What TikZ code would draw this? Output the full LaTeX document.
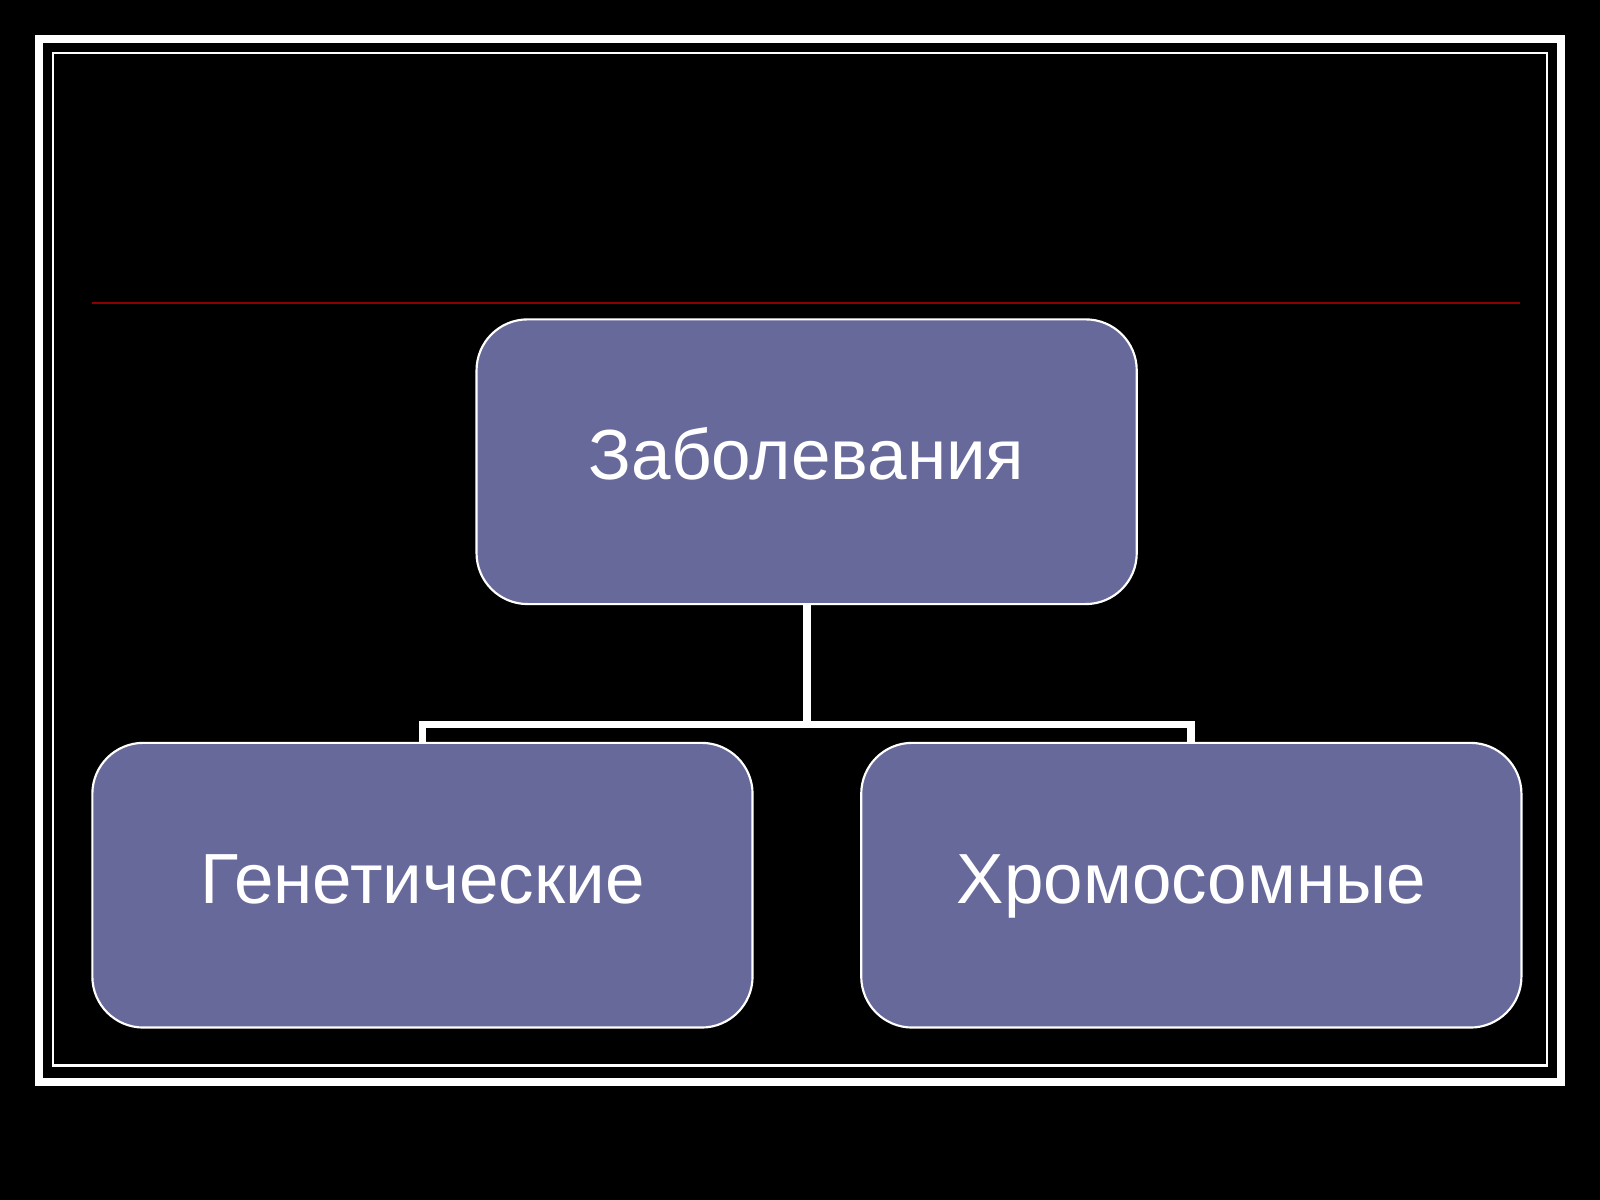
\documentclass[tikz,border=0pt]{standalone}
\usepackage{fontspec}
\setmainfont{Liberation Sans}
\usetikzlibrary{positioning}
\definecolor{boxblue}{HTML}{67699A}
\definecolor{rulered}{HTML}{8B0000}
\tikzset{
  topic/.style={draw=white, line width=0.6pt, fill=boxblue, rounded corners=0.5cm,
    minimum width=6.47cm, minimum height=2.79cm, text=white,
    text height=1.1em, text depth=0.1em, font=\fontsize{19.8}{24}\selectfont},
  link/.style={draw=white, line width=2.2pt}
}
\begin{document}
\begin{tikzpicture}
% background and frame
\fill[black] (0,0) rectangle (15.68,-11.76);
\useasboundingbox (0,0) rectangle (15.68,-11.76);
\draw[white, line width=2.2pt] (0.38,-0.38) rectangle (15.30,-10.60);
\draw[white, line width=0.8pt] (0.52,-0.52) rectangle (15.16,-10.44);
% title rule
\draw[rulered, line width=0.8pt] (0.90,-2.97) -- (14.90,-2.97);
% boxes
\node[topic] (dis) at (7.905,-4.525) {Заболевания};
\node[topic] (gen) at (4.14,-8.675) {Генетические};
\node[topic] (chr) at (11.675,-8.675) {Хромосомные};
% connectors
\coordinate (fork) at (7.905,-7.10);
\draw[link] (dis.south) -- (fork);
\draw[link] (gen.north) |- (fork) -| (chr.north);
\end{tikzpicture}
\end{document}
